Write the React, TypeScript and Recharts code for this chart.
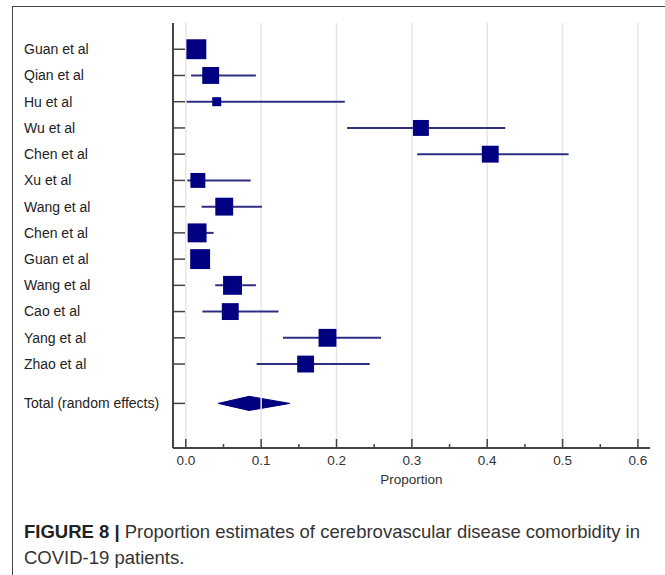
import {
  ComposedChart,
  Scatter,
  ErrorBar,
  Area,
  XAxis,
  YAxis,
  ReferenceLine,
  Label,
} from 'recharts';

const studies = [
  'Guan et al',
  'Qian et al',
  'Hu et al',
  'Wu et al',
  'Chen et al',
  'Xu et al',
  'Wang et al',
  'Chen et al',
  'Guan et al',
  'Wang et al',
  'Cao et al',
  'Yang et al',
  'Zhao et al',
];
const estimates = [0.014, 0.033, 0.041, 0.312, 0.404, 0.016, 0.051, 0.015, 0.019, 0.062, 0.059, 0.188, 0.159];
const lower = [0.008, 0.007, 0.001, 0.214, 0.307, 0.002, 0.021, 0.003, 0.011, 0.039, 0.022, 0.129, 0.094];
const upper = [0.022, 0.093, 0.211, 0.424, 0.508, 0.086, 0.101, 0.037, 0.028, 0.093, 0.123, 0.259, 0.244];
// study weights (%), square area follows weight
const weights = [10.3, 7.4, 2.1, 6.6, 7.4, 5.8, 8.3, 9.3, 10.3, 9.3, 7.4, 8.3, 7.4];

const totalLabel = 'Total (random effects)';
const pooled = { est: 0.084, lo: 0.043, hi: 0.138 };

const majorTicks = [0, 0.1, 0.2, 0.3, 0.4, 0.5, 0.6];
const allTicks = [0, 0.05, 0.1, 0.15, 0.2, 0.25, 0.3, 0.35, 0.4, 0.45, 0.5, 0.55, 0.6];

const TOTAL_ROW = 13.5;
const DIAMOND_HALF = 0.27;

const NAVY = '#000080';
const CI_COLOR = '#2e2e82';
const AXIS = '#444';
const FONT = '"Liberation Sans", Arial, Helvetica, sans-serif';

const studyData = studies.map((name, i) => ({
  name,
  x: estimates[i],
  y: i,
  w: weights[i],
  err: [estimates[i] - lower[i], upper[i] - estimates[i]],
}));

const diamondData = [
  { x: pooled.lo, band: [TOTAL_ROW, TOTAL_ROW] },
  { x: pooled.est, band: [TOTAL_ROW - DIAMOND_HALF, TOTAL_ROW + DIAMOND_HALF] },
  { x: pooled.hi, band: [TOTAL_ROW, TOTAL_ROW] },
];

const yTicks = [...studies.map((_, i) => i), TOTAL_ROW];

function WeightSquare(props: any) {
  const { cx, cy, payload } = props;
  const side = Math.sqrt(payload.w) * 6.2;
  return <rect x={cx - side / 2} y={cy - side / 2} width={side} height={side} fill={NAVY} />;
}

function StudyTick(props: any) {
  const { x, y, payload } = props;
  const v = payload.value;
  const text = v === TOTAL_ROW ? totalLabel : studies[v];
  return (
    <g>
      <line x1={x} y1={y} x2={x + 12} y2={y} stroke={AXIS} strokeWidth={1.5} />
      <text x={24} y={y} dy="0.35em" textAnchor="start" fontSize={14} fill="#222" fontFamily={FONT}>
        {text}
      </text>
    </g>
  );
}

function ProportionTick(props: any) {
  const { x, y, payload } = props;
  const v = payload.value;
  const major = majorTicks.some((m) => Math.abs(m - v) < 1e-9);
  return (
    <g>
      <line x1={x} y1={y} x2={x} y2={y - (major ? 9 : 4)} stroke={AXIS} strokeWidth={1.5} />
      {major && (
        <text x={x} y={y + 17} textAnchor="middle" fontSize={13.5} fill="#333" fontFamily={FONT}>
          {v.toFixed(1)}
        </text>
      )}
    </g>
  );
}

export default function App() {
  return (
    <div
      style={{
        position: 'absolute',
        left: 0,
        top: 0,
        width: 665,
        height: 575,
        overflow: 'hidden',
        background: '#fff',
        fontFamily: FONT,
      }}
    >
      <div
        style={{
          position: 'absolute',
          left: 12,
          top: 6,
          width: 700,
          height: 620,
          border: '1.5px solid #444',
          boxSizing: 'border-box',
        }}
      />
      <div style={{ position: 'absolute', left: 0, top: 0 }}>
        <ComposedChart width={665} height={500} margin={{ top: 23, right: 15, bottom: 12, left: 0 }}>
          <XAxis
            type="number"
            dataKey="x"
            domain={[-0.017, 0.616]}
            ticks={allTicks}
            interval={0}
            tickSize={0}
            tickMargin={0}
            tickLine={false}
            tick={<ProportionTick />}
            axisLine={{ stroke: AXIS, strokeWidth: 2 }}
            height={40}
            allowDataOverflow
          >
            <Label value="Proportion" position="insideBottom" offset={4} fontSize={13.5} fill="#333" fontFamily={FONT} />
          </XAxis>
          <YAxis
            type="number"
            dataKey="y"
            domain={[-1, 15.2]}
            reversed
            ticks={yTicks}
            interval={0}
            width={173}
            tickSize={0}
            tickMargin={0}
            tickLine={false}
            tick={<StudyTick />}
            axisLine={{ stroke: AXIS, strokeWidth: 2 }}
            allowDataOverflow
          />
          {majorTicks.map((t) => (
            <ReferenceLine key={t} x={t} stroke="#e6e6e6" strokeWidth={1.5} />
          ))}
          <Area
            data={diamondData}
            dataKey="band"
            type="linear"
            fill={NAVY}
            fillOpacity={1}
            stroke={NAVY}
            strokeWidth={1}
            isAnimationActive={false}
          />
          <Scatter data={studyData} shape={<WeightSquare />} isAnimationActive={false}>
            <ErrorBar dataKey="err" direction="x" width={0} stroke={CI_COLOR} strokeWidth={2} />
          </Scatter>
        </ComposedChart>
      </div>
      <div
        style={{
          position: 'absolute',
          left: 24,
          top: 519,
          width: 640,
          fontSize: 18.5,
          lineHeight: '26px',
          color: '#333',
          whiteSpace: 'nowrap',
        }}
      >
        <span style={{ fontWeight: 'bold', color: '#222' }}>FIGURE 8 |</span> Proportion estimates of
        cerebrovascular disease comorbidity in
        <br />
        COVID-19 patients.
      </div>
    </div>
  );
}
